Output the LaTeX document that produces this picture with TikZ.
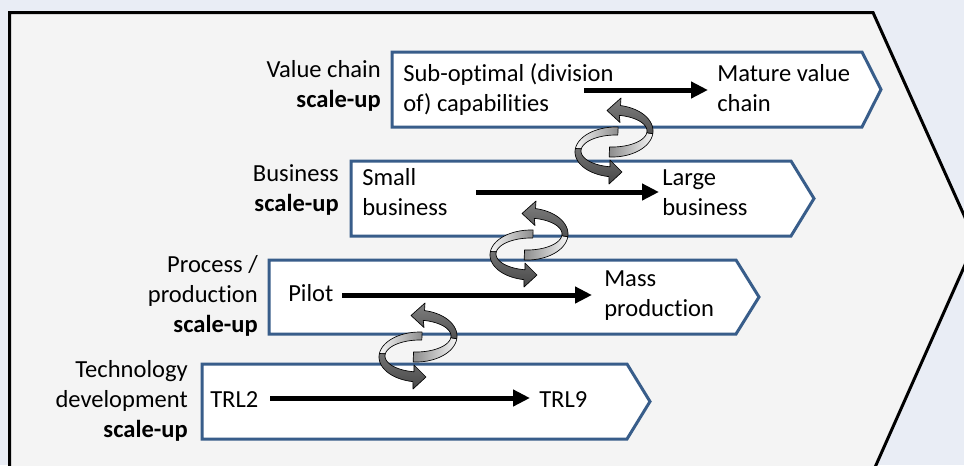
\documentclass[tikz,border=0pt]{standalone}
\usepackage{fontspec}
\setmainfont{Carlito}[RawFeature={-liga;-clig;-calt}]
\usetikzlibrary{arrows.meta}
\definecolor{bgblue}{HTML}{E9EDF5}
\definecolor{panel}{HTML}{F4F4F4}
\definecolor{boxblue}{HTML}{385D8A}
\newcommand\ribbonpair{%
  % upper ribbon arrow (points left at the top)
  \draw[rib, left color=black!45, right color=black!4]
    plot[domain=94:6,samples=30] ({612+41*cos(\x)},{131+26*sin(\x)})
    -- plot[domain=6:94,samples=30] ({612+35*cos(\x)},{131+16*sin(\x)}) -- cycle;
  \draw[rib, top color=black!50, bottom color=black!68]
    plot[domain=6:-78,samples=30] ({612+41*cos(\x)},{131+26*sin(\x)})
    -- (621,98) -- (607,110.5) -- (620,122.5)
    -- plot[domain=-78:6,samples=30] ({612+35*cos(\x)},{131+16*sin(\x)}) -- cycle;
  % lower ribbon arrow (points right at the bottom)
  \draw[rib, left color=black!4, right color=black!45]
    plot[domain=-87:-172,samples=30] ({616+41*cos(\x)},{152+25*sin(\x)})
    -- plot[domain=-172:-87,samples=30] ({616+35*cos(\x)},{151+16*sin(\x)}) -- cycle;
  \draw[rib, top color=black!55, bottom color=black!72]
    plot[domain=-172:-260,samples=30] ({616+41*cos(\x)},{152+25*sin(\x)})
    -- (609,184) -- (622,172) -- (610,160)
    -- plot[domain=-260:-172,samples=30] ({616+35*cos(\x)},{151+16*sin(\x)}) -- cycle;
}
\begin{document}
\begin{tikzpicture}[x=0.75pt,y=-0.75pt,
  txt/.style={font=\fontsize{18.4}{22}\selectfont, inner sep=0pt, text=black},
  lab/.style={txt, anchor=base east},
  intxt/.style={txt, anchor=base west},
  stagebox/.style={draw=boxblue, line width=2.25pt, fill=white, line join=miter},
  flow/.style={line width=3.75pt, -{Triangle[length=12.75pt,width=12pt]}},
  rib/.style={draw=black, line width=0.5pt, line join=round}]
\fill[bgblue] (0,0) rectangle (964,465);
\useasboundingbox (0,0) rectangle (964,465);
\clip (0,0) rectangle (964,465);
% big chevron panel
\draw[fill=panel, line width=2.25pt, line join=miter]
  (9.5,12.5) -- (873,12.5) -- (975.6,241) -- (873.8,470) -- (9.5,470) -- cycle;
% stage boxes
\draw[stagebox] (392,52) -- (862,52) -- (881,89.5) -- (862,127) -- (392,127) -- cycle;
\draw[stagebox] (351,161) -- (791,161) -- (814,198.5) -- (791,236) -- (351,236) -- cycle;
\draw[stagebox] (269,260) -- (736,260) -- (759,297) -- (736,334) -- (269,334) -- cycle;
\draw[stagebox] (202,364) -- (627,364) -- (650,401.5) -- (627,439) -- (202,439) -- cycle;
% left labels
\node[lab] (vc1) at (381,77) {Value chain};
\node[lab] (vc2) at (381,107) {\bfseries scale-up};
\node[lab] (bs1) at (339,181) {Business};
\node[lab] (bs2) at (339,211) {\bfseries scale-up};
\node[lab] (pp1) at (258,272) {Process /};
\node[lab] (pp2) at (258,302) {production};
\node[lab] (pp3) at (258,332) {\bfseries scale-up};
\node[lab] (td1) at (188,377) {Technology};
\node[lab] (td2) at (188,407) {development};
\node[lab] (td3) at (188,437) {\bfseries scale-up};
% texts inside boxes
\node[intxt] (so1) at (403,81) {Sub-optimal (division};
\node[intxt] (so2) at (403,111) {of) capabilities};
\node[intxt] (mv1) at (717,81) {Mature value};
\node[intxt] (mv2) at (717,111) {chain};
\node[intxt] (sb1) at (362,185) {Small};
\node[intxt] (sb2) at (362,215) {business};
\node[intxt] (lb1) at (662,185) {Large};
\node[intxt] (lb2) at (662,215) {business};
\node[intxt] (pil) at (288,301) {Pilot};
\node[intxt] (mp1) at (604,286) {Mass};
\node[intxt] (mp2) at (604,316) {production};
\node[intxt] (trl2) at (210,407) {TRL2};
\node[intxt] (trl9) at (539,407) {TRL9};
% flow arrows
\coordinate (f1s) at (584,90);  \coordinate (f1e) at (708,90);
\coordinate (f2s) at (476,192); \coordinate (f2e) at (659,192);
\coordinate (f3s) at (342,295); \coordinate (f3e) at (592,295);
\coordinate (f4s) at (270,398); \coordinate (f4e) at (530,398);
\draw[flow] (f1s) -- (f1e);
\draw[flow] (f2s) -- (f2e);
\draw[flow] (f3s) -- (f3e);
\draw[flow] (f4s) -- (f4e);
% circular ribbon arrows
\ribbonpair
\begin{scope}[shift={(-85,103)}]\ribbonpair\end{scope}
\begin{scope}[shift={(-196,205)}]\ribbonpair\end{scope}
\end{tikzpicture}
\end{document}
